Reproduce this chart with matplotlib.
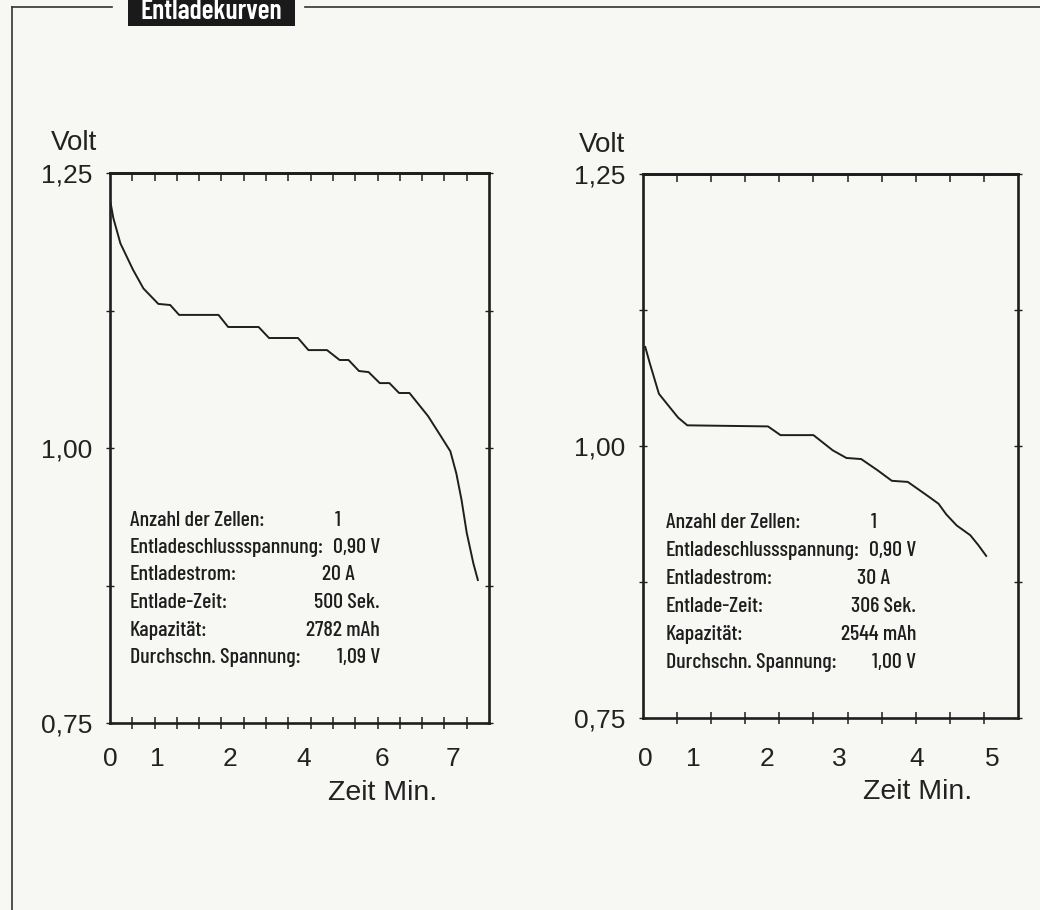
import numpy as np
import matplotlib
matplotlib.use("Agg")
import matplotlib.pyplot as plt
from matplotlib.lines import Line2D
from matplotlib.patches import Rectangle

# left chart: 20 A discharge, time in seconds, voltage in V
t_20a = [1, 4.5, 14, 31, 45, 65, 81, 93, 146, 159, 200, 214, 253, 267, 292, 309, 321,
         335, 348, 363, 376, 389, 403, 428, 444, 458, 466, 473, 480, 489, 495]
v_20a = [1.222, 1.209, 1.186, 1.162, 1.145, 1.131, 1.130, 1.121, 1.121, 1.110, 1.110,
         1.100, 1.100, 1.089, 1.089, 1.080, 1.080, 1.070, 1.069, 1.059, 1.059, 1.050,
         1.050, 1.029, 1.012, 0.997, 0.977, 0.953, 0.923, 0.895, 0.880]

# right chart: 30 A discharge
t_30a = [2, 6, 14, 24, 31, 39, 110, 121, 150, 167, 179, 192, 206, 219, 233, 248, 260,
         267, 276, 288, 295, 302]
v_30a = [1.091, 1.076, 1.048, 1.035, 1.026, 1.019, 1.018, 1.010, 1.010, 0.996, 0.989,
         0.988, 0.978, 0.968, 0.967, 0.956, 0.947, 0.937, 0.927, 0.918, 0.909, 0.899]

# the printed minute labels sit at odd places on the seconds scale
min_labels_20a = ["0", "1", "2", "4", "6", "7"]
min_pos_20a = [0, 63, 161, 260, 366, 462]
min_labels_30a = ["0", "1", "2", "3", "4", "5"]
min_pos_30a = [2, 44, 109, 173, 241, 307]

y_ticks = [0.75, 0.875, 1.0, 1.125, 1.25]
y_tick_labels = ["0,75", "", "1,00", "", "1,25"]

info_keys = ["Anzahl der Zellen:", "Entladeschlussspannung:", "Entladestrom:",
             "Entlade-Zeit:", "Kapazität:", "Durchschn. Spannung:"]
info_20a = ["1", "0,90 V", "20 A", "500 Sek.", "2782 mAh", "1,09 V"]
info_30a = ["1", "0,90 V", "30 A", "306 Sek.", "2544 mAh", "1,00 V"]

W, H = 1040, 910
BG = "#f7f7f4"
INK = "#1e1e1e"
SANS = ["Liberation Sans", "DejaVu Sans"]
NARROW = ["Barlow Condensed", "Roboto Condensed", "DejaVu Sans"]


def fx(px):
    return px / W


def fy(py):
    return 1 - py / H


fig = plt.figure(figsize=(W / 100, H / 100), dpi=100, facecolor=BG)

# page frame and title tab
fig.add_artist(Line2D([fx(12), fx(12)], [fy(7), 0], color="#333333", lw=1.2))
fig.add_artist(Line2D([fx(12), fx(112)], [fy(7), fy(7)], color="#333333", lw=1.2))
fig.add_artist(Line2D([fx(305), 1], [fy(7), fy(7)], color="#333333", lw=1.2))
fig.add_artist(Rectangle((fx(128), fy(26)), fx(295 - 128), 26 / H + 0.01,
                         transform=fig.transFigure, color="#1a1a1a", lw=0))
fig.text(fx(211), fy(19), "Entladekurven", color="white", fontsize=20,
         family=NARROW, fontstretch="condensed", ha="center", va="baseline",
         fontweight="semibold")


def make_panel(rect, t, v, xmax, lab_pos, labs, lab_pad, info, box_x, box_y0, box_dy):
    ax = fig.add_axes(rect)
    ax.set_facecolor("none")
    ax.plot(t, v, color=INK, lw=1.4)
    ax.set_xlim(0, xmax)
    ax.set_ylim(0.75, 1.25)
    for s in ax.spines.values():
        s.set_linewidth(1.9)
        s.set_color(INK)

    grid = np.arange(30, xmax, 30)
    ax.set_xticks(lab_pos)
    ax.set_xticklabels(labs, fontsize=19, family=SANS, color="#222222")
    ax.set_xticks(grid, minor=True)
    ax.tick_params(axis="x", which="major", length=0, pad=lab_pad)
    ax.tick_params(axis="x", which="minor", direction="inout", length=9, width=1.1, color=INK)

    top = ax.secondary_xaxis("top")
    top.set_xticks([])
    top.set_xticks(grid, minor=True)
    top.tick_params(which="minor", direction="in", length=6, width=1.1, color=INK)
    top.spines["top"].set_linewidth(1.9)

    ax.set_yticks(y_ticks)
    ax.set_yticklabels(y_tick_labels, fontsize=19, family=SANS, color="#222222")
    ax.tick_params(axis="y", direction="inout", length=6, width=1, color=INK,
                   right=True, pad=10)

    txt = dict(fontsize=15.8, family=NARROW, fontstretch="condensed",
               fontweight="medium", color=INK, va="center")
    for i, (k, val) in enumerate(zip(info_keys, info)):
        y = fy(box_y0 + i * box_dy)
        fig.text(fx(box_x), y, k, ha="left", **txt)
        if i in (0, 2):
            fig.text(fx(box_x + 208), y, val, ha="center", **txt)
        else:
            fig.text(fx(box_x + 250), y, val, ha="right", **txt)
    return ax


make_panel([fx(110), fy(723), fx(379), 550 / H], t_20a, v_20a, 510,
           min_pos_20a, min_labels_20a, 17, info_20a, 130, 520, 27.5)
make_panel([fx(643), fy(718), fx(375), 544 / H], t_30a, v_30a, 330,
           min_pos_30a, min_labels_30a, 21, info_30a, 666, 523, 28)

fig.text(fx(97), fy(143), "Volt", fontsize=20, family=SANS, color="#222222",
         ha="right", va="center")
fig.text(fx(625), fy(145), "Volt", fontsize=20, family=SANS, color="#222222",
         ha="right", va="center")
fig.text(fx(383), fy(793), "Zeit Min.", fontsize=20.5, family=SANS, color="#222222",
         ha="center", va="center")
fig.text(fx(918), fy(792), "Zeit Min.", fontsize=20.5, family=SANS, color="#222222",
         ha="center", va="center")

fig.savefig("out.png", dpi=100, facecolor=BG)
